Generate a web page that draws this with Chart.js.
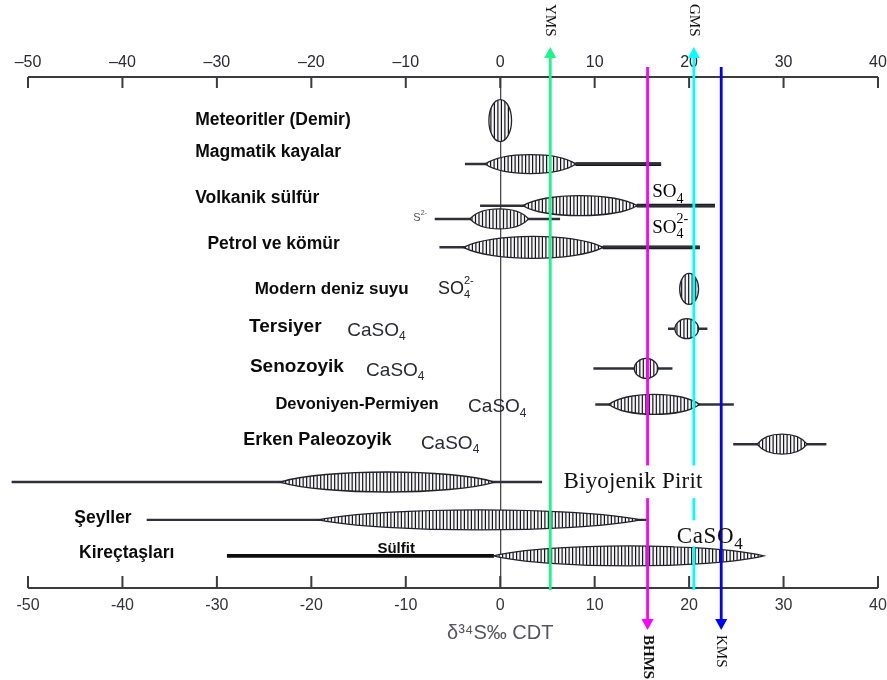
<!DOCTYPE html>
<html>
<head>
<meta charset="utf-8">
<script src="https://cdn.jsdelivr.net/npm/chart.js@4/dist/chart.umd.min.js"></script>
<style>
  html, body { margin: 0; padding: 0; background: #ffffff; }
  #wrap { width: 887px; height: 680px; }
</style>
</head>
<body>
<div id="wrap"><canvas id="c" width="887" height="680"></canvas></div>
<script>
// δ34S (‰ CDT) ranges of the main sulphur reservoirs
const rowNames  = ['Meteoritler (Demir)', 'Magmatik kayalar', 'Volkanik sülfür SO4', 'Volkanik sülfür S2-',
                   'Petrol ve kömür', 'Modern deniz suyu', 'Tersiyer', 'Senozoyik', 'Devoniyen-Permiyen',
                   'Erken Paleozoyik', 'Biyojenik Pirit', 'Şeyller', 'Kireçtaşları'];
const rowLevel  = [1.15, 2.3, 3.4, 3.75, 4.5, 5.6, 6.65, 7.7, 8.65, 9.7, 10.7, 11.7, 12.65];

// full spread of each reservoir
const rangeMin  = [null, -3.7, -2.1, -6.9, -6.4, null, 17.8,  9.9, 10.1, 24.7, -51.7, -37.4, null];
const rangeMax  = [null, 17.0, 22.7,  6.3, 21.1, null, 21.9, 18.2, 24.7, 34.5,   4.4,  15.7, null];

// main body (hatched lens) of each reservoir
const lensMin   = [-1.2, -1.6,  2.4, -3.2, -3.9, 19.0, 18.5, 14.2, 11.5, 27.2, -23.3, -19.2, -0.7];
const lensMax   = [ 1.2,  8.0, 14.5,  3.0, 10.9, 21.0, 21.0, 16.7, 21.1, 32.5,  -0.6,  14.8, 27.9];

// heavier tails (rows index into rowLevel)
const tailRow   = [1, 2, 4, 12];
const tailMin   = [8.0, 14.5, 10.9, -28.9];
const tailMax   = [17.0, 22.7, 21.1, -0.7];

// axis ticks
const tickValues = [-50, -40, -30, -20, -10, 0, 10, 20, 30, 40];

// sample markers
const markerNames  = ['YMS', 'BHMS', 'GMS', 'KMS'];
const markerValues = [5.3, 15.6, 20.5, 23.4];

// ---- styling -------------------------------------------------------------
const markerStyle = [
  { color: '#1cf58a', dir: 'up',   font: '15px "Liberation Serif"' },
  { color: '#ff00ff', dir: 'down', font: 'bold 15px "Liberation Serif"' },
  { color: '#00ffff', dir: 'up',   font: '15px "Liberation Serif"' },
  { color: '#0000ff', dir: 'down', font: '15px "Liberation Serif"' }
];
const lensHeight = { 0: 42, 1: 19, 4: 22, 5: 31 };
const LENS_H = 20;

const SANS_B = (s) => `bold ${s}px "Liberation Sans", Arial, sans-serif`;
const SANS   = (s) => `${s}px "Liberation Sans", Arial, sans-serif`;
const SERIF  = (s) => `${s}px "Liberation Serif", "Times New Roman", serif`;

// text notes placed in axis units (x in ‰, y in row units)
const notes = [
  { t: 'Meteoritler (Demir)', x: -32.3, y: 1.14, font: SANS_B(17.5) },
  { t: 'Magmatik kayalar',    x: -32.3, y: 1.98, font: SANS_B(17.5) },
  { t: 'Volkanik sülfür',     x: -32.3, y: 3.2,  font: SANS_B(17.5) },
  { t: 'Petrol ve kömür',     x: -31.0, y: 4.41, font: SANS_B(17.5) },
  { t: 'Modern deniz suyu',   x: -26.0, y: 5.6,  font: SANS_B(17) },
  { t: 'Tersiyer',            x: -26.6, y: 6.6,  font: SANS_B(19) },
  { t: 'Senozoyik',           x: -26.5, y: 7.66, font: SANS_B(19) },
  { t: 'Devoniyen-Permiyen',  x: -23.8, y: 8.64, font: SANS_B(16.5) },
  { t: 'Erken Paleozoyik',    x: -27.2, y: 9.6,  font: SANS_B(18) },
  { t: 'Şeyller',             x: -45.1, y: 11.65, font: SANS_B(17.5) },
  { t: 'Kireçtaşları',        x: -44.6, y: 12.58, font: SANS_B(17.5) },
  { t: 'Sülfit',              x: -13.0, y: 12.46, font: SANS_B(15) }
];
const chemNotes = [
  { base: 'S',    sup: '2-', x: -9.2, y: 3.72, size: 11, serif: false, color: '#555' },
  { base: 'SO', sub: '4',           x: 16.1, y: 3.05, size: 19, serif: true,  color: '#000' },
  { base: 'SO', sub: '4', sup: '2-', x: 16.1, y: 3.98, size: 19, serif: true,  color: '#000' },
  { base: 'SO', sub: '4', sup: '2-', x: -6.6, y: 5.6,  size: 18, serif: false, color: '#222' },
  { base: 'CaSO', sub: '4', x: -16.2, y: 6.7,  size: 19, serif: false, color: '#2a2a35' },
  { base: 'CaSO', sub: '4', x: -14.2, y: 7.75, size: 19, serif: false, color: '#2a2a35' },
  { base: 'CaSO', sub: '4', x: -3.4,  y: 8.72, size: 19, serif: false, color: '#2a2a35' },
  { base: 'CaSO', sub: '4', x: -8.4,  y: 9.68, size: 19, serif: false, color: '#2a2a35' },
  { base: 'Biyojenik Pirit',        x: 6.7,  y: 10.7, size: 23, serif: true, color: '#111', box: true, spacing: 0.2 },
  { base: 'CaSO', sub: '4',         x: 18.7, y: 12.15, size: 23, serif: true, color: '#111', box: true, boxW: 42, boxH: 26, spacing: 0.6 }
];

// ---- datasets ------------------------------------------------------------
const rangeData = [];
rangeMin.forEach((v, i) => {
  if (v !== null) rangeData.push({ x: [v, rangeMax[i]], y: rowLevel[i] });
});
const tailData = tailRow.map((r, i) => ({ x: [tailMin[i], tailMax[i]], y: rowLevel[r] }));

// ---- helpers -------------------------------------------------------------
function lensPath(ctx, x0, x1, yc, h) {
  const w = x1 - x0;
  ctx.beginPath();
  if (w < 2.2 * h) {
    ctx.ellipse((x0 + x1) / 2, yc, w / 2, h / 2, 0, 0, Math.PI * 2);
  } else {
    const k = (h / 2) * 4 / 3;
    ctx.moveTo(x0, yc);
    ctx.bezierCurveTo(x0 + w * 0.2, yc - k, x1 - w * 0.2, yc - k, x1, yc);
    ctx.bezierCurveTo(x1 - w * 0.2, yc + k, x0 + w * 0.2, yc + k, x0, yc);
  }
  ctx.closePath();
}

function drawChem(ctx, n, px, py) {
  const big = n.serif ? SERIF(n.size) : SANS(n.size);
  const small = n.serif ? SERIF(Math.round(n.size * 0.72)) : SANS(Math.round(n.size * 0.62));
  ctx.letterSpacing = (n.spacing || 0) + 'px';
  ctx.font = big;
  const wBase = ctx.measureText(n.base).width;
  ctx.font = small;
  const wSub = n.sub ? ctx.measureText(n.sub).width : 0;
  const wSup = n.sup ? ctx.measureText(n.sup).width : 0;
  const total = wBase + Math.max(wSub, wSup);
  if (n.box) {
    ctx.fillStyle = '#ffffff';
    ctx.fillRect(px - 3, py - n.size * 0.72, n.boxW || total + 6, n.boxH || n.size * 1.42);
  }
  ctx.fillStyle = n.color;
  ctx.textAlign = 'left';
  ctx.textBaseline = 'middle';
  ctx.font = big;
  ctx.fillText(n.base, px, py);
  ctx.font = small;
  if (n.sub) ctx.fillText(n.sub, px + wBase, py + n.size * 0.34);
  if (n.sup) ctx.fillText(n.sup, px + wBase, py - n.size * 0.42);
  ctx.letterSpacing = '0px';
}

// ---- plugins -------------------------------------------------------------
const axesPlugin = {
  id: 'axesFrame',
  beforeDatasetsDraw(chart) {
    const { ctx } = chart;
    const xs = chart.scales.x;
    const top = chart.scales.xTop.bottom;
    const bottom = xs.top;
    const l = xs.getPixelForValue(tickValues[0]);
    const r = xs.getPixelForValue(tickValues[tickValues.length - 1]);
    ctx.save();
    ctx.strokeStyle = '#3b3b40';
    ctx.lineWidth = 2;
    ctx.beginPath();
    ctx.moveTo(l, top); ctx.lineTo(r, top);
    ctx.moveTo(l, bottom); ctx.lineTo(r, bottom);
    tickValues.forEach(v => {
      const p = xs.getPixelForValue(v);
      ctx.moveTo(p, top); ctx.lineTo(p, top + 11);
      ctx.moveTo(p, bottom); ctx.lineTo(p, bottom - 12);
    });
    ctx.stroke();
    ctx.restore();
  }
};

const lensPlugin = {
  id: 'lenses',
  afterDatasetsDraw(chart) {
    const { ctx } = chart;
    const xs = chart.scales.x, ys = chart.scales.y;
    ctx.save();
    lensMin.forEach((v, i) => {
      const x0 = xs.getPixelForValue(v);
      const x1 = xs.getPixelForValue(lensMax[i]);
      const yc = ys.getPixelForValue(rowLevel[i]);
      const h = lensHeight[i] || LENS_H;
      lensPath(ctx, x0, x1, yc, h);
      ctx.fillStyle = '#f6f6f6';
      ctx.fill();
      ctx.save();
      ctx.clip();
      ctx.strokeStyle = '#15151c';
      ctx.lineWidth = 1.2;
      ctx.beginPath();
      for (let x = x0 + 2; x < x1; x += 3.5) {
        ctx.moveTo(x, yc - h / 2);
        ctx.lineTo(x, yc + h / 2);
      }
      ctx.stroke();
      ctx.restore();
      lensPath(ctx, x0, x1, yc, h);
      ctx.strokeStyle = '#23232c';
      ctx.lineWidth = 1.3;
      ctx.stroke();
    });
    ctx.restore();
  }
};

const overlayPlugin = {
  id: 'overlay',
  afterDraw(chart) {
    const { ctx } = chart;
    const xs = chart.scales.x, ys = chart.scales.y;
    ctx.save();

    // row names
    ctx.fillStyle = '#0c0c0c';
    ctx.textAlign = 'left';
    ctx.textBaseline = 'middle';
    notes.forEach(n => {
      ctx.font = n.font;
      ctx.fillText(n.t, xs.getPixelForValue(n.x), ys.getPixelForValue(n.y));
    });

    // axis title centred on the zero line
    ctx.font = SANS(20);
    ctx.fillStyle = '#555560';
    ctx.textAlign = 'center';
    ctx.fillText('δ³⁴S‰ CDT', xs.getPixelForValue(0), 633);

    // chemical labels; the boxed ones hide the marker lines that run under them
    const boxed = chemNotes.filter(n => n.box);
    chemNotes.filter(n => !n.box).forEach(n => drawChem(ctx, n, xs.getPixelForValue(n.x), ys.getPixelForValue(n.y)));

    // sample markers
    markerValues.forEach((v, i) => {
      const st = markerStyle[i];
      const x = xs.getPixelForValue(v);
      const up = st.dir === 'up';
      const yFrom = up ? xs.top + 2 : chart.scales.xTop.bottom - 10;
      const yTip = up ? 47 : 630;
      ctx.strokeStyle = st.color;
      ctx.fillStyle = st.color;
      ctx.lineWidth = 2.8;
      ctx.beginPath();
      ctx.moveTo(x, yFrom);
      ctx.lineTo(x, up ? yTip + 10 : yTip - 10);
      ctx.stroke();
      ctx.beginPath();
      ctx.moveTo(x, yTip);
      ctx.lineTo(x - 6, up ? yTip + 11 : yTip - 11);
      ctx.lineTo(x + 6, up ? yTip + 11 : yTip - 11);
      ctx.closePath();
      ctx.fill();
      // rotated name
      ctx.save();
      ctx.translate(x, up ? 4 : 635);
      ctx.rotate(Math.PI / 2);
      ctx.font = st.font;
      ctx.fillStyle = '#111';
      ctx.textAlign = 'left';
      ctx.textBaseline = 'middle';
      ctx.fillText(markerNames[i], 0, 0);
      ctx.restore();
    });

    boxed.forEach(n => drawChem(ctx, n, xs.getPixelForValue(n.x), ys.getPixelForValue(n.y)));
    ctx.restore();
  }
};

// ---- chart ---------------------------------------------------------------
const fmtTop = v => (v < 0 ? '\u2013' + Math.abs(v) : String(v));
const fmtBottom = v => String(v);
const fitX = h => s => { s.height = h; s.paddingLeft = 0; s.paddingRight = 0; };

new Chart(document.getElementById('c'), {
  type: 'bar',
  data: {
    datasets: [
      { label: 'aralık', data: rangeData, backgroundColor: '#30303a', barThickness: 1.8, grouped: false, clip: false, xAxisID: 'x', yAxisID: 'y' },
      { label: 'kuyruk', data: tailData, backgroundColor: '#0d0d0d', barThickness: 3, grouped: false, clip: false, xAxisID: 'x', yAxisID: 'y' }
    ]
  },
  options: {
    indexAxis: 'y',
    responsive: false,
    animation: false,
    devicePixelRatio: 1,
    layout: { padding: { left: 28, right: 9, top: 0, bottom: 0 } },
    plugins: { legend: { display: false }, tooltip: { enabled: false } },
    scales: {
      y: { type: 'linear', reverse: true, min: 0, max: 13.5, offset: false, display: false },
      x: {
        type: 'linear', position: 'bottom', min: -50, max: 40,
        afterBuildTicks: s => { s.ticks = tickValues.map(v => ({ value: v })); },
        afterFit: fitX(92),
        border: { display: false },
        grid: {
          drawOnChartArea: true, drawTicks: false, lineWidth: 1.3,
          color: c => (c.tick && c.tick.value === 0 ? '#4a4a50' : 'rgba(0,0,0,0)')
        },
        ticks: { padding: 8, color: '#333338', font: { family: '"Liberation Sans", Arial', size: 16 }, callback: fmtBottom, maxRotation: 0, autoSkip: false }
      },
      xTop: {
        type: 'linear', position: 'top', min: -50, max: 40,
        afterBuildTicks: s => { s.ticks = tickValues.map(v => ({ value: v })); },
        afterFit: fitX(77),
        border: { display: false },
        grid: { display: false, drawTicks: false },
        ticks: { padding: 5, color: '#2a2a30', font: { family: '"Liberation Sans", Arial', size: 16 }, callback: fmtTop, maxRotation: 0, autoSkip: false }
      }
    }
  },
  plugins: [axesPlugin, lensPlugin, overlayPlugin]
});
</script>
</body>
</html>
